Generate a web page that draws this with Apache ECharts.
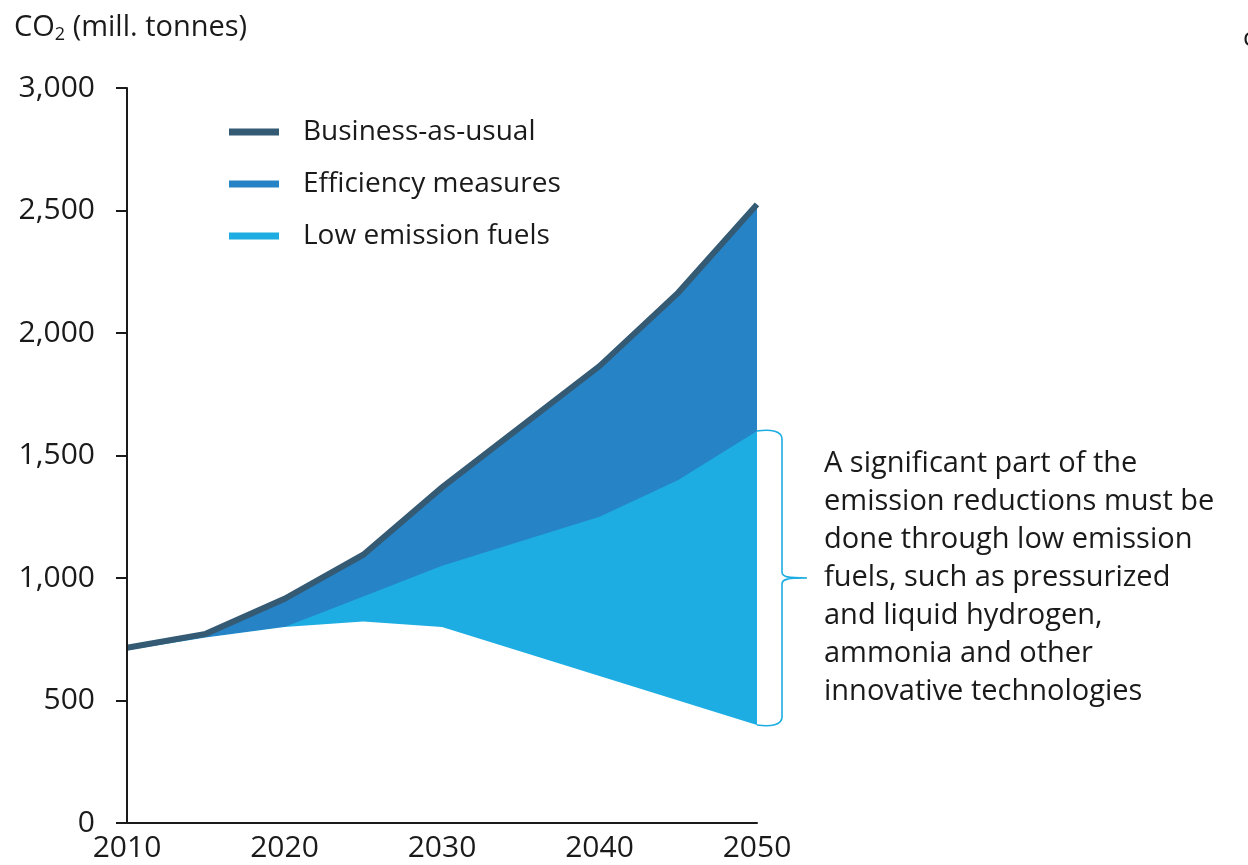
<!DOCTYPE html>
<html>
<head>
<meta charset="utf-8">
<script src="https://cdn.jsdelivr.net/npm/echarts@6/dist/echarts.min.js"></script>
<style>
  html, body { margin: 0; padding: 0; background: #fff; }
  #chart { width: 1248px; height: 865px; }
</style>
</head>
<body>
<div id="chart"></div>
<script>
// values (mill. tonnes CO2)
const years = [2010, 2015, 2020, 2025, 2030, 2040, 2045, 2050];
const businessAsUsual = [715, 772, 915, 1095, 1370, 1865, 2165, 2525];
const lowEmissionTop = [705, 757, 800, 925, 1050, 1250, 1400, 1600];
const remaining = [705, 757, 800, 822, 800, 600, 500, 400];
const yTicks = [0, 500, 1000, 1500, 2000, 2500, 3000];
const xTicks = [2010, 2020, 2030, 2040, 2050];
const legendNames = ["Business-as-usual", "Efficiency measures", "Low emission fuels"];
const note = [
  "A significant part of the",
  "emission reductions must be",
  "done through low emission",
  "fuels, such as pressurized",
  "and liquid hydrogen,",
  "ammonia and other",
  "innovative technologies"
];

const colors = { bau: "#345a74", efficiency: "#2683c6", lowEmission: "#1dade2", text: "#1a1a1a" };
const font = "Open Sans";

const pairs = (values) => values.map((v, i) => [years[i], v]);

// the brace at 2050 spans the low emission band
const braceData = [[years[years.length - 1], lowEmissionTop[lowEmissionTop.length - 1], remaining[remaining.length - 1]]];

const renderBrace = (params, api) => {
  const [bx, yTop] = api.coord([api.value(0), api.value(1)]);
  const yBot = api.coord([api.value(0), api.value(2)])[1];
  const mid = (yTop + yBot) / 2;
  const bw = 25;
  const tip = 50;
  const pathData = [
    `M ${bx} ${yTop}`,
    `C ${bx + 14} ${yTop - 2} ${bx + bw} ${yTop} ${bx + bw} ${yTop + 8}`,
    `L ${bx + bw} ${mid - 6}`,
    `C ${bx + bw} ${mid - 1} ${bx + bw + 6} ${mid} ${bx + tip} ${mid}`,
    `C ${bx + bw + 6} ${mid} ${bx + bw} ${mid + 1} ${bx + bw} ${mid + 6}`,
    `L ${bx + bw} ${yBot - 8}`,
    `C ${bx + bw} ${yBot} ${bx + 14} ${yBot + 2} ${bx} ${yBot}`
  ].join(" ");
  return {
    type: "group",
    children: [
      {
        type: "path",
        shape: { pathData },
        style: { fill: null, stroke: colors.lowEmission, lineWidth: 1.6 }
      },
      {
        type: "text",
        x: bx + 67,
        y: mid - (note.length * 38) / 2,
        style: {
          text: note.join("\n"),
          fontSize: 29,
          fontFamily: font,
          lineHeight: 38,
          fill: colors.text
        }
      }
    ]
  };
};

const areaSeries = (name, values, color, z) => ({
  name,
  type: "line",
  data: pairs(values),
  symbol: "none",
  color,
  z,
  lineStyle: { width: 0 },
  areaStyle: { color, opacity: 1, origin: "start" },
  silent: true
});

const chart = echarts.init(document.getElementById("chart"), null, { renderer: "canvas" });

chart.setOption({
  animation: false,
  textStyle: { fontFamily: font, color: colors.text },
  grid: { left: 127, right: 491, top: 88, bottom: 42, containLabel: false },
  legend: {
    data: legendNames,
    orient: "vertical",
    left: 224,
    top: 112,
    itemWidth: 50,
    itemHeight: 7,
    itemGap: 22,
    icon: "rect",
    textStyle: { fontFamily: font, fontSize: 28, color: colors.text, padding: [0, 0, 0, 19], lineHeight: 30 }
  },
  xAxis: {
    type: "value",
    min: 2010,
    max: 2050,
    interval: 10,
    z: 10,
    axisLine: { show: true, onZero: false, lineStyle: { color: colors.text, width: 2 } },
    axisTick: { show: false },
    splitLine: { show: false },
    axisLabel: {
      margin: 10,
      fontSize: 30,
      color: colors.text,
      fontFamily: font,
      formatter: (v) => (xTicks.includes(v) ? String(v) : "")
    }
  },
  yAxis: {
    type: "value",
    min: 0,
    max: 3000,
    interval: 500,
    z: 10,
    name: "{a|CO}{b|2}{a| (mill. tonnes)}",
    nameLocation: "end",
    nameGap: 0,
    nameTextStyle: {
      align: "left",
      verticalAlign: "bottom",
      padding: [0, 0, 44, -113],
      rich: {
        a: { fontSize: 29, fontFamily: font, color: colors.text },
        b: { fontSize: 18, fontFamily: font, color: colors.text, padding: [15, 0, 0, 0] }
      }
    },
    axisLine: { show: true, lineStyle: { color: colors.text, width: 2 } },
    axisTick: { show: true, length: 11, lineStyle: { color: colors.text, width: 2 } },
    splitLine: { show: false },
    axisLabel: {
      margin: 32,
      fontSize: 30,
      color: colors.text,
      fontFamily: font,
      formatter: (v) => (yTicks.includes(v) ? v.toLocaleString("en-US") : "")
    }
  },
  series: [
    areaSeries("Efficiency measures", businessAsUsual, colors.efficiency, 2),
    areaSeries("Low emission fuels", lowEmissionTop, colors.lowEmission, 3),
    areaSeries("remaining", remaining, "#ffffff", 4),
    {
      name: "Business-as-usual",
      type: "line",
      data: pairs(businessAsUsual),
      symbol: "none",
      color: colors.bau,
      z: 5,
      lineStyle: { width: 6, color: colors.bau, cap: "butt", join: "miter" }
    },
    {
      name: "brace",
      type: "custom",
      data: braceData,
      renderItem: renderBrace,
      clip: false,
      silent: true,
      z: 6
    }
  ],
  graphic: [
    {
      type: "text",
      left: 1243,
      top: 26,
      style: { text: "c", fontSize: 26, fontFamily: font, fill: colors.text }
    }
  ]
});
</script>
</body>
</html>
